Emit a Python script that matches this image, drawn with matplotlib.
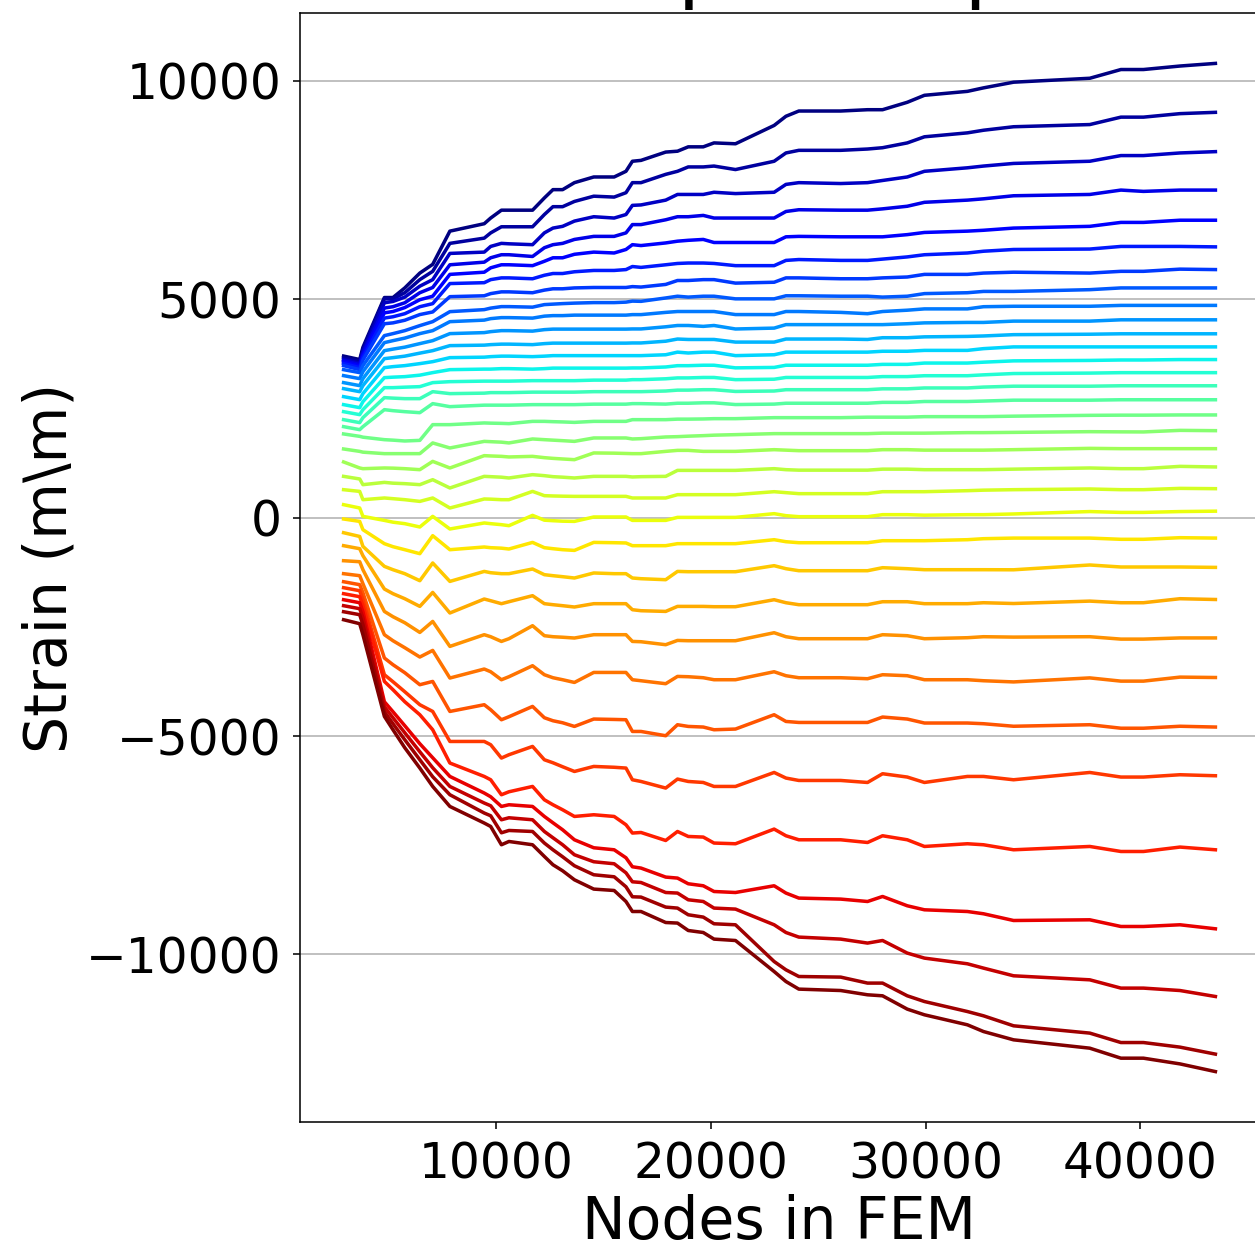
import numpy as np
import matplotlib.pyplot as plt

# number of nodes in each FEM model
nodes = [2900, 3650, 3800, 4800, 5200, 5750, 6450, 7050, 7850, 9450, 9750, 10250, 10600,
         11700, 12250, 12650, 13100, 13650, 14550, 15500, 16050, 16350, 16750, 17900,
         18450, 18950, 19650, 20150, 21150, 22950, 23500, 24100, 26050, 27300, 28000,
         29150, 29950, 31950, 32700, 34100, 37650, 39100, 40150, 41850, 43500]

# strain at every sample point, top (blue) to bottom (red)
p01 = [3700, 3620, 3900, 5040, 5040, 5260, 5600, 5800, 6560, 6730, 6860, 7040, 7040, 7040, 7320, 7510, 7510, 7670, 7800, 7800, 7930, 8160, 8180, 8370, 8390, 8490, 8490, 8580, 8560, 8980, 9190, 9310, 9310, 9340, 9340, 9510, 9670, 9760, 9840, 9970, 10060, 10260, 10260, 10340, 10400]
p02 = [3660, 3580, 3850, 5010, 5010, 5150, 5450, 5640, 6280, 6400, 6520, 6660, 6660, 6660, 6940, 7120, 7120, 7240, 7360, 7340, 7440, 7670, 7670, 7860, 7930, 8030, 8030, 8050, 7970, 8160, 8350, 8410, 8410, 8440, 8470, 8580, 8720, 8810, 8870, 8950, 9000, 9170, 9170, 9250, 9280]
p03 = [3620, 3540, 3800, 4920, 4950, 5050, 5300, 5450, 6050, 6080, 6210, 6280, 6270, 6250, 6520, 6630, 6670, 6790, 6890, 6860, 6940, 7150, 7160, 7270, 7400, 7400, 7400, 7450, 7420, 7450, 7630, 7670, 7650, 7670, 7720, 7800, 7930, 8010, 8050, 8110, 8160, 8290, 8290, 8350, 8380]
p04 = [3595, 3504, 3756, 4800, 4830, 4920, 5150, 5270, 5790, 5850, 5950, 6020, 6020, 5980, 6180, 6250, 6280, 6370, 6440, 6440, 6520, 6710, 6710, 6820, 6890, 6890, 6920, 6860, 6860, 6860, 7010, 7050, 7040, 7040, 7070, 7130, 7220, 7270, 7300, 7370, 7400, 7500, 7470, 7500, 7500]
p05 = [3561, 3469, 3710, 4690, 4720, 4810, 4990, 5070, 5570, 5620, 5720, 5790, 5790, 5770, 5870, 5950, 5950, 6030, 6080, 6060, 6140, 6250, 6230, 6290, 6330, 6350, 6370, 6300, 6300, 6300, 6430, 6440, 6430, 6430, 6430, 6480, 6530, 6560, 6580, 6630, 6670, 6760, 6760, 6810, 6810]
p06 = [3527, 3435, 3664, 4570, 4600, 4670, 4830, 4900, 5360, 5380, 5450, 5490, 5490, 5470, 5550, 5590, 5590, 5630, 5660, 5660, 5680, 5750, 5730, 5790, 5820, 5830, 5830, 5820, 5770, 5770, 5890, 5910, 5890, 5890, 5920, 5970, 6020, 6060, 6100, 6140, 6150, 6210, 6210, 6210, 6200]
p07 = [3481, 3389, 3607, 4440, 4460, 4520, 4650, 4710, 5060, 5080, 5130, 5170, 5170, 5150, 5210, 5240, 5240, 5260, 5270, 5270, 5270, 5290, 5280, 5340, 5430, 5430, 5450, 5450, 5370, 5390, 5490, 5490, 5470, 5470, 5490, 5510, 5570, 5570, 5600, 5620, 5600, 5640, 5640, 5690, 5680]
p08 = [3389, 3321, 3481, 4168, 4214, 4282, 4397, 4488, 4717, 4763, 4798, 4832, 4832, 4820, 4878, 4889, 4901, 4912, 4924, 4924, 4935, 4958, 4953, 5030, 5070, 5050, 5070, 5070, 5010, 5010, 5080, 5080, 5070, 5070, 5050, 5070, 5130, 5150, 5180, 5180, 5220, 5260, 5260, 5260, 5260]
p09 = [3252, 3183, 3343, 4008, 4053, 4111, 4214, 4282, 4488, 4523, 4557, 4580, 4580, 4569, 4614, 4626, 4626, 4637, 4637, 4637, 4637, 4649, 4649, 4700, 4720, 4720, 4720, 4720, 4650, 4650, 4720, 4720, 4700, 4670, 4720, 4750, 4780, 4780, 4830, 4840, 4840, 4860, 4860, 4860, 4860]
p10 = [3092, 3023, 3183, 3824, 3859, 3904, 3985, 4053, 4214, 4237, 4259, 4282, 4282, 4271, 4305, 4317, 4317, 4317, 4317, 4317, 4317, 4321, 4321, 4370, 4400, 4400, 4380, 4400, 4320, 4340, 4420, 4420, 4420, 4420, 4420, 4440, 4460, 4470, 4470, 4500, 4500, 4530, 4530, 4530, 4530]
p11 = [2954, 2885, 3023, 3641, 3664, 3698, 3767, 3824, 3939, 3950, 3962, 3973, 3973, 3962, 3985, 3996, 3996, 3996, 3996, 3996, 3996, 4000, 4000, 4040, 4090, 4080, 4080, 4080, 4020, 4020, 4090, 4090, 4090, 4080, 4120, 4120, 4140, 4150, 4160, 4190, 4200, 4210, 4210, 4210, 4210]
p12 = [2771, 2702, 2840, 3435, 3458, 3481, 3527, 3572, 3664, 3675, 3687, 3698, 3698, 3687, 3698, 3710, 3710, 3710, 3710, 3710, 3710, 3710, 3710, 3730, 3790, 3770, 3790, 3790, 3710, 3730, 3790, 3790, 3790, 3790, 3810, 3810, 3830, 3830, 3870, 3910, 3910, 3910, 3910, 3910, 3910]
p13 = [2588, 2519, 2656, 3206, 3217, 3229, 3263, 3321, 3389, 3401, 3401, 3412, 3412, 3401, 3412, 3424, 3424, 3424, 3424, 3424, 3424, 3428, 3428, 3450, 3480, 3480, 3490, 3490, 3430, 3440, 3490, 3490, 3490, 3490, 3510, 3510, 3540, 3540, 3560, 3590, 3600, 3610, 3610, 3620, 3620]
p14 = [2427, 2359, 2473, 2977, 2977, 2988, 3000, 3092, 3114, 3126, 3126, 3126, 3126, 3137, 3137, 3137, 3137, 3137, 3149, 3149, 3149, 3160, 3160, 3180, 3200, 3200, 3210, 3210, 3160, 3170, 3210, 3210, 3210, 3210, 3230, 3230, 3250, 3250, 3270, 3300, 3310, 3320, 3320, 3320, 3320]
p15 = [2244, 2176, 2290, 2748, 2737, 2725, 2725, 2885, 2840, 2851, 2863, 2863, 2863, 2874, 2874, 2874, 2874, 2874, 2885, 2885, 2885, 2885, 2885, 2900, 2920, 2920, 2930, 2930, 2890, 2900, 2930, 2930, 2930, 2930, 2950, 2950, 2970, 2970, 2990, 3010, 3010, 3020, 3020, 3020, 3020]
p16 = [2084, 2015, 2084, 2473, 2450, 2427, 2404, 2611, 2542, 2576, 2576, 2576, 2576, 2588, 2588, 2588, 2588, 2588, 2599, 2599, 2599, 2611, 2611, 2600, 2620, 2620, 2630, 2630, 2590, 2600, 2620, 2620, 2620, 2620, 2640, 2640, 2660, 2660, 2670, 2690, 2690, 2700, 2700, 2700, 2700]
p17 = [1917, 1862, 1843, 1786, 1775, 1756, 1770, 2130, 2130, 2169, 2164, 2159, 2153, 2205, 2205, 2198, 2192, 2182, 2205, 2205, 2205, 2244, 2244, 2244, 2256, 2256, 2260, 2267, 2267, 2290, 2290, 2290, 2290, 2301, 2301, 2301, 2313, 2313, 2313, 2324, 2343, 2347, 2347, 2352, 2352]
p18 = [1573, 1518, 1500, 1466, 1466, 1466, 1466, 1711, 1596, 1747, 1740, 1729, 1711, 1802, 1786, 1775, 1763, 1747, 1825, 1825, 1825, 1802, 1809, 1848, 1855, 1866, 1878, 1889, 1901, 1924, 1924, 1924, 1924, 1924, 1935, 1935, 1935, 1947, 1947, 1953, 1969, 1965, 1963, 1999, 1992]
p19 = [1276, 1138, 1122, 1138, 1134, 1122, 1099, 1289, 1138, 1420, 1413, 1404, 1390, 1404, 1374, 1358, 1344, 1328, 1482, 1477, 1470, 1466, 1466, 1518, 1541, 1541, 1518, 1518, 1518, 1557, 1546, 1534, 1534, 1534, 1557, 1557, 1546, 1546, 1546, 1557, 1587, 1580, 1580, 1580, 1580]
p20 = [946, 886, 756, 808, 790, 779, 756, 870, 680, 946, 939, 927, 909, 985, 962, 939, 927, 909, 946, 946, 946, 932, 939, 946, 1083, 1083, 1083, 1083, 1083, 1122, 1099, 1088, 1088, 1088, 1111, 1111, 1099, 1099, 1099, 1111, 1138, 1122, 1122, 1175, 1161]
p21 = [641, 602, 412, 451, 435, 412, 373, 451, 222, 428, 424, 412, 412, 602, 504, 497, 492, 488, 488, 488, 488, 451, 451, 451, 527, 527, 527, 527, 527, 595, 573, 550, 550, 550, 595, 595, 595, 618, 630, 641, 657, 641, 641, 671, 664]
p22 = [298, 222, 30, -62, -103, -137, -213, 30, -259, -121, -137, -160, -183, 53, -57, -69, -80, -85, 16, 16, 16, -62, -62, -62, 7, 7, 7, 7, 7, 92, 46, 23, 23, 23, 69, 69, 57, 69, 69, 85, 140, 121, 121, 140, 149]
p23 = [-30, -85, -275, -595, -664, -733, -824, -412, -733, -671, -687, -698, -717, -566, -687, -710, -733, -749, -566, -573, -579, -641, -641, -641, -595, -595, -595, -595, -595, -504, -550, -573, -573, -573, -527, -527, -527, -504, -481, -467, -467, -495, -495, -458, -467]
p24 = [-344, -430, -657, -1115, -1191, -1282, -1443, -1037, -1459, -1230, -1260, -1282, -1282, -1175, -1305, -1328, -1351, -1381, -1266, -1282, -1282, -1381, -1397, -1420, -1230, -1237, -1237, -1237, -1237, -1099, -1168, -1214, -1214, -1214, -1145, -1168, -1191, -1191, -1191, -1193, -1083, -1129, -1129, -1129, -1138]
p25 = [-641, -710, -870, -1633, -1740, -1855, -2031, -1711, -2182, -1862, -1901, -1969, -1924, -1786, -1969, -1992, -2015, -2045, -1969, -1969, -1969, -2107, -2130, -2146, -2031, -2031, -2031, -2038, -2038, -1878, -1947, -1992, -1992, -1992, -1924, -1924, -1969, -1969, -1947, -1965, -1910, -1947, -1947, -1855, -1873]
p26 = [-985, -1008, -1191, -2146, -2267, -2405, -2627, -2375, -2947, -2679, -2725, -2833, -2771, -2473, -2702, -2725, -2737, -2755, -2679, -2679, -2679, -2833, -2840, -2908, -2810, -2817, -2817, -2817, -2817, -2634, -2725, -2771, -2771, -2771, -2679, -2702, -2771, -2748, -2725, -2734, -2725, -2780, -2780, -2753, -2753]
p27 = [-1282, -1328, -1511, -2679, -2817, -2977, -3190, -3039, -3671, -3465, -3527, -3710, -3641, -3389, -3595, -3664, -3710, -3772, -3543, -3543, -3543, -3710, -3733, -3801, -3634, -3641, -3664, -3710, -3710, -3527, -3618, -3664, -3664, -3687, -3595, -3618, -3710, -3710, -3733, -3760, -3668, -3742, -3742, -3650, -3659]
p28 = [-1466, -1534, -1718, -3213, -3366, -3549, -3824, -3749, -4436, -4282, -4397, -4626, -4557, -4321, -4580, -4649, -4695, -4779, -4610, -4619, -4626, -4894, -4894, -4992, -4740, -4779, -4793, -4855, -4839, -4511, -4665, -4688, -4688, -4688, -4564, -4610, -4701, -4701, -4717, -4775, -4740, -4820, -4820, -4775, -4793]
p29 = [-1603, -1672, -1878, -3595, -3756, -3985, -4282, -4436, -5123, -5123, -5198, -5503, -5427, -5237, -5542, -5611, -5702, -5810, -5695, -5714, -5732, -6000, -6039, -6190, -5984, -6039, -6062, -6153, -6153, -5833, -5961, -6016, -6016, -6062, -5862, -5938, -6062, -5924, -5924, -6000, -5833, -5938, -5938, -5885, -5908]
p30 = [-1740, -1809, -2015, -3749, -3939, -4214, -4511, -4855, -5617, -5924, -6000, -6343, -6275, -6153, -6458, -6572, -6687, -6840, -6801, -6840, -7030, -7220, -7207, -7390, -7184, -7298, -7312, -7449, -7465, -7129, -7282, -7374, -7374, -7436, -7282, -7374, -7527, -7465, -7488, -7603, -7527, -7642, -7642, -7541, -7603]
p31 = [-1878, -1947, -2153, -4214, -4443, -4763, -5175, -5496, -5924, -6304, -6389, -6611, -6572, -6611, -6840, -6985, -7145, -7374, -7557, -7603, -7786, -7992, -8022, -8228, -8251, -8381, -8427, -8558, -8581, -8427, -8594, -8709, -8732, -8787, -8672, -8885, -8977, -9016, -9068, -9222, -9206, -9359, -9359, -9320, -9412]
p32 = [-2015, -2084, -2290, -4328, -4580, -4924, -5359, -5725, -6153, -6533, -6595, -6916, -6870, -6916, -7184, -7328, -7488, -7717, -7877, -7923, -8130, -8336, -8352, -8581, -8594, -8748, -8787, -8938, -8961, -9320, -9497, -9602, -9648, -9739, -9680, -9968, -10083, -10213, -10312, -10488, -10580, -10770, -10770, -10825, -10962]
p33 = [-2153, -2221, -2450, -4443, -4717, -5084, -5542, -5931, -6343, -6762, -6824, -7214, -7161, -7184, -7449, -7603, -7763, -7969, -8175, -8221, -8450, -8679, -8686, -8915, -8938, -9091, -9144, -9297, -9320, -10161, -10351, -10504, -10518, -10655, -10655, -10946, -11077, -11306, -11404, -11633, -11800, -12016, -12016, -12121, -12281]
p34 = [-2336, -2427, -2679, -4550, -4855, -5267, -5732, -6153, -6611, -6991, -7069, -7488, -7413, -7488, -7756, -7946, -8084, -8290, -8503, -8535, -8787, -9016, -9016, -9268, -9281, -9451, -9497, -9648, -9680, -10390, -10619, -10793, -10825, -10923, -10946, -11251, -11381, -11610, -11764, -11954, -12145, -12374, -12374, -12505, -12681]

points = [p01, p02, p03, p04, p05, p06, p07, p08, p09, p10, p11, p12, p13, p14, p15, p16, p17,
          p18, p19, p20, p21, p22, p23, p24, p25, p26, p27, p28, p29, p30, p31, p32, p33, p34]

colores = plt.cm.jet(np.linspace(0, 1, len(points)))

fig = plt.figure(figsize=(1255/140, 1248/140), dpi=140)
ax = fig.add_axes([300/1255, 126/1248, 959/1255, 1109/1248])

for serie, c in zip(points, colores):
    ax.plot(nodes, serie, color=c, lw=1.8)

ax.grid(axis='y')
ax.set_axisbelow(True)
ax.set_xticks([10000, 20000, 30000, 40000])
ax.set_yticks([-10000, -5000, 0, 5000, 10000])
ax.tick_params(labelsize=25, pad=6)
ax.set_xlabel('Nodes in FEM', fontsize=30, labelpad=3)
ax.set_ylabel('Strain (m\\m)', fontsize=30)

# title sits above the visible area, only the descenders show
fig.text(410/1255, 1 + 7/1248, 'Strain per step', fontsize=42, va='baseline', ha='left')

fig.savefig('out.png', dpi=140)
